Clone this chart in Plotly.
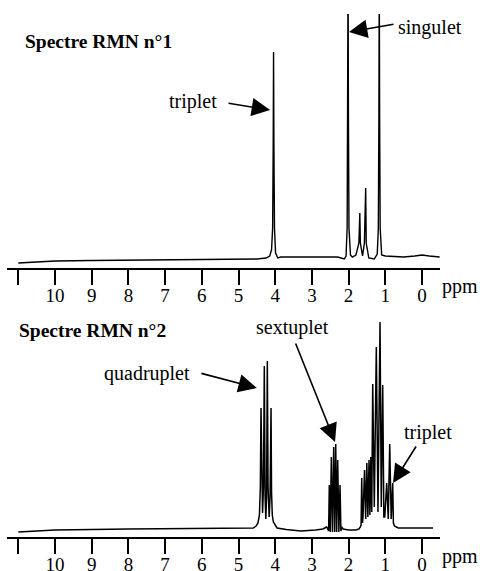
import plotly.graph_objects as go

# ---- Data (ppm, intensity in arbitrary units) ----
ppm1 = [11.0, 10.5, 10.0, 9.0, 8.0, 7.0, 6.0, 5.0, 4.5, 4.25, 4.15, 4.10, 4.07, 4.055, 4.045, 4.035,
        4.02, 3.99, 3.93, 3.85, 3.0, 2.3, 2.12, 2.07, 2.04, 2.025, 2.015, 2.005, 1.99, 1.95, 1.9,
        1.8, 1.72, 1.695, 1.68, 1.62, 1.57, 1.535, 1.52, 1.45, 1.3, 1.22, 1.19, 1.175, 1.165,
        1.155, 1.14, 1.10, 1.0, 0.5, 0.2, 0.0, -0.2, -0.48]
int1 = [5, 6, 7, 7.5, 8, 8, 8.5, 9, 9, 10, 12, 18, 40, 120, 216, 120,
        40, 15, 10, 11, 11, 11, 9, 12, 40, 150, 300, 150, 40, 13, 11,
        13, 25, 55, 25, 12, 25, 80, 25, 10, 9, 14, 40, 150, 300,
        150, 40, 13, 12, 11, 12, 13, 12, 11]

ppm2 = [11.0, 10.0, 8.0, 6.0, 5.0, 4.6, 4.52, 4.47, 4.43, 4.405, 4.387, 4.37, 4.345, 4.32, 4.297,
        4.275, 4.256, 4.235, 4.215, 4.195, 4.165, 4.14, 4.114, 4.10, 4.08, 4.05, 4.0, 3.95, 3.7,
        3.3, 2.9, 2.7, 2.6, 2.58, 2.545, 2.526, 2.50, 2.471, 2.44, 2.406, 2.38, 2.351, 2.325,
        2.297, 2.265, 2.234, 2.21, 2.19, 2.15, 2.0, 1.8, 1.72, 1.68, 1.66, 1.643, 1.62, 1.605,
        1.567, 1.535, 1.504, 1.475, 1.444, 1.42, 1.395, 1.37, 1.343, 1.30, 1.245, 1.20, 1.144,
        1.11, 1.071, 1.04, 1.015, 0.962, 0.92, 0.880, 0.84, 0.798, 0.78, 0.75, 0.65, 0.4, 0.2, -0.3]
int2 = [5, 7, 8, 8.5, 9, 9, 11, 14, 22, 50, 129, 50, 24, 50, 171,
        40, 18, 40, 176, 50, 20, 40, 129, 45, 22, 15, 12, 9, 7.5,
        6, 7, 8, 10, 9, 6, 52, 5, 80, 5, 90, 5, 93, 5,
        77, 5, 52, 6, 10, 8, 7, 7, 8, 10, 12, 59, 14, 22,
        67, 18, 74, 20, 77, 22, 80, 25, 153, 30, 190, 25, 215,
        30, 152, 20, 20, 54, 18, 93, 18, 54, 14, 11, 9, 9, 9, 9]

tick_vals = [11, 10, 9, 8, 7, 6, 5, 4, 3, 2, 1, 0]
tick_text = ["", "10", "9", "8", "7", "6", "5", "4", "3", "2", "1", "0"]

titles = ["Spectre RMN n°1", "Spectre RMN n°2"]

FONT = "Liberation Serif"
W, H = 480, 571

fig = go.Figure()
fig.add_trace(go.Scatter(x=ppm1, y=int1, mode="lines", line=dict(color="black", width=1.4),
                         xaxis="x", yaxis="y", showlegend=False, hoverinfo="skip"))
fig.add_trace(go.Scatter(x=ppm2, y=int2, mode="lines", line=dict(color="black", width=1.5),
                         xaxis="x2", yaxis="y2", showlegend=False, hoverinfo="skip"))

xr = [11.308, -0.49]
xdom = [7 / W, 440 / W]
axis_common = dict(range=xr, showline=True, linecolor="black", linewidth=2,
                   ticks="outside", ticklen=15, tickwidth=2, tickcolor="black",
                   tickvals=tick_vals, ticktext=tick_text, showgrid=False, zeroline=False,
                   automargin=False, ticklabelstandoff=-6,
                   tickfont=dict(family=FONT, size=19, color="black"), domain=xdom)

fig.update_layout(
    width=W, height=H,
    margin=dict(l=0, r=0, t=0, b=0, autoexpand=False),
    paper_bgcolor="white", plot_bgcolor="white",
    xaxis=dict(anchor="y", **axis_common),
    yaxis=dict(range=[0, 254], domain=[(H - 268) / H, (H - 14) / H], visible=False,
               automargin=False),
    xaxis2=dict(anchor="y2", **axis_common),
    yaxis2=dict(range=[0, 237], domain=[(H - 537) / H, (H - 300) / H], visible=False,
                automargin=False),
)

tf = dict(family=FONT, size=20, color="black")
ann = []
# titles
ann.append(dict(x=10.87, y=227, xref="x", yref="y", text="<b>" + titles[0] + "</b>",
                showarrow=False, xanchor="left", yanchor="middle",
                font=dict(family=FONT, size=19.5, color="black")))
ann.append(dict(x=11.04, y=207, xref="x2", yref="y2", text="<b>" + titles[1] + "</b>",
                showarrow=False, xanchor="left", yanchor="middle",
                font=dict(family=FONT, size=19.5, color="black")))
# labels
ann.append(dict(x=0.708, y=241, xref="x", yref="y", text="singulet", showarrow=False,
                xanchor="left", yanchor="middle", font=tf))
ann.append(dict(x=5.53, y=167, xref="x", yref="y", text="triplet", showarrow=False,
                xanchor="right", yanchor="middle", font=tf))
ann.append(dict(x=3.53, y=210, xref="x2", yref="y2", text="sextuplet", showarrow=False,
                xanchor="center", yanchor="middle", font=tf))
ann.append(dict(x=6.27, y=164, xref="x2", yref="y2", text="quadruplet", showarrow=False,
                xanchor="right", yanchor="middle", font=tf))
ann.append(dict(x=0.545, y=105, xref="x2", yref="y2", text="triplet", showarrow=False,
                xanchor="left", yanchor="middle", font=tf))
# ppm labels
ann.append(dict(x=440 / W, y=(H - 286) / H, xref="paper", yref="paper", text="ppm",
                showarrow=False, xanchor="left", yanchor="middle", font=tf))
ann.append(dict(x=440 / W, y=(H - 556) / H, xref="paper", yref="paper", text="ppm",
                showarrow=False, xanchor="left", yanchor="middle", font=tf))

# arrows (tip in data coords, tail offset in pixels)
arrow = dict(text="", showarrow=True, arrowhead=2, arrowsize=2.3, arrowwidth=1.6,
             arrowcolor="black", standoff=0)
ann.append(dict(x=4.14, y=158, xref="x", yref="y", ax=-43, ay=-7, **arrow))
ann.append(dict(x=1.99, y=236, xref="x", yref="y", ax=46, ay=-8, **arrow))
ann.append(dict(x=4.50, y=149, xref="x2", yref="y2", ax=-57, ay=-15, **arrow))
ann.append(dict(x=2.37, y=95, xref="x2", yref="y2", ax=-40, ay=-100, **arrow))
ann.append(dict(x=0.79, y=54, xref="x2", yref="y2", ax=24, ay=-38, **arrow))

fig.update_layout(annotations=ann)
fig.write_html("out.html", config={"displayModeBar": False},
               post_script="document.body.style.margin='0';")
